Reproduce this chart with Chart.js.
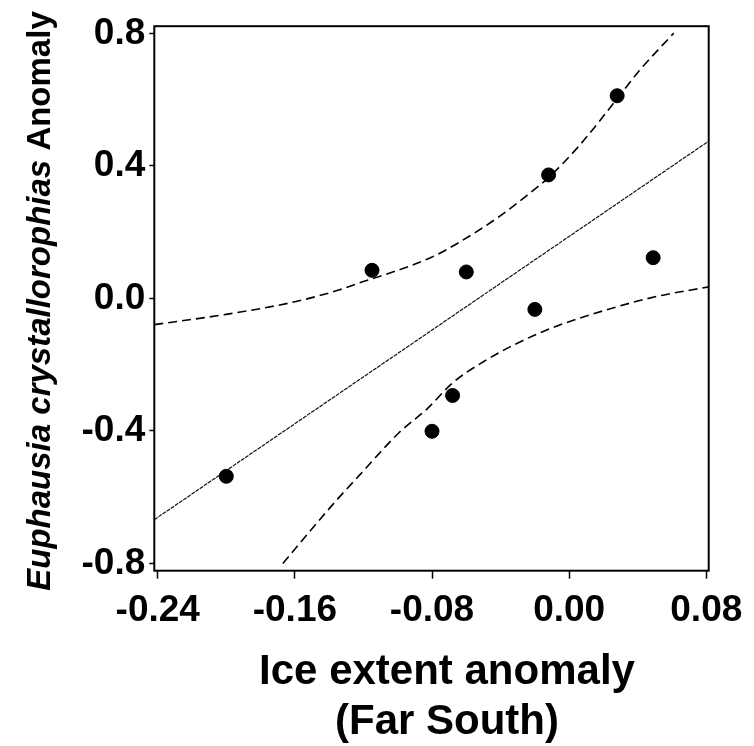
<!DOCTYPE html>
<html>
<head>
<meta charset="utf-8">
<script src="https://cdn.jsdelivr.net/npm/chart.js@4"></script>
<style>
  body { margin: 0; background: #fff; }
  canvas { display: block; }
</style>
</head>
<body>
<canvas id="chart" width="754" height="746"></canvas>
<script>
'use strict';

// observed anomalies (one point per year)
const iceAnomaly = [-0.200, -0.115, -0.080, -0.068, -0.060, -0.020, -0.012, 0.028, 0.049];
const krillAnomaly = [-0.537, 0.085, -0.401, -0.293, 0.080, -0.033, 0.373, 0.612, 0.123];

// fitted regression line
const fitX = [-0.242, 0.0814];
const fitY = [-0.668, 0.475];

// 95% confidence band, upper and lower curves
const upperX = [-0.242, -0.200, -0.160, -0.134, -0.120, -0.105, -0.080, -0.064, -0.040, -0.023, -0.012, 0.006, 0.028, 0.041, 0.061];
const upperY = [-0.079, -0.048, -0.010, 0.026, 0.051, 0.076, 0.125, 0.170, 0.250, 0.318, 0.365, 0.462, 0.603, 0.688, 0.801];
const lowerX = [-0.167, -0.136, -0.122, -0.099, -0.083, -0.068, -0.050, -0.029, -0.007, 0.026, 0.051, 0.0814];
const lowerY = [-0.800, -0.611, -0.532, -0.404, -0.334, -0.255, -0.191, -0.132, -0.083, -0.028, 0.006, 0.035];

const xTicks = [-0.24, -0.16, -0.08, 0.00, 0.08];
const yTicks = [-0.8, -0.4, 0.0, 0.4, 0.8];

const FONT = '"Liberation Sans", Arial, sans-serif';

function pairs(xs, ys) {
  return xs.map((x, i) => ({ x: x, y: ys[i] }));
}

// box round the plot plus the two axis titles
const framePlugin = {
  id: 'frame',
  afterDraw(chart) {
    const ctx = chart.ctx;
    const a = chart.chartArea;
    ctx.save();
    ctx.strokeStyle = '#000';
    ctx.lineWidth = 2;
    ctx.strokeRect(a.left, a.top, a.right - a.left, a.bottom - a.top);

    ctx.fillStyle = '#000';
    ctx.textAlign = 'center';
    ctx.textBaseline = 'alphabetic';
    ctx.font = 'bold 42px ' + FONT;
    ctx.fillText('Ice extent anomaly', 447, 684);
    ctx.fillText('(Far South)', 447, 734);

    // y title: italic species name followed by plain word
    const parts = [
      { text: 'Euphausia crystallorophias', font: 'italic bold 33px ' + FONT },
      { text: ' Anomaly', font: 'bold 33px ' + FONT }
    ];
    let total = 0;
    parts.forEach(p => { ctx.font = p.font; p.w = ctx.measureText(p.text).width; total += p.w; });
    ctx.translate(50, 301);
    ctx.rotate(-Math.PI / 2);
    ctx.textAlign = 'left';
    let pos = -total / 2;
    parts.forEach(p => { ctx.font = p.font; ctx.fillText(p.text, pos, 0); pos += p.w; });
    ctx.restore();
  }
};

const ctx = document.getElementById('chart').getContext('2d');

new Chart(ctx, {
  type: 'scatter',
  data: {
    datasets: [
      {
        label: 'observed',
        data: pairs(iceAnomaly, krillAnomaly),
        backgroundColor: '#000',
        borderColor: '#000',
        pointRadius: 7,
        pointHoverRadius: 7
      },
      {
        label: 'fit',
        data: pairs(fitX, fitY),
        showLine: true,
        pointRadius: 0,
        borderColor: '#111',
        borderWidth: 1.2,
        borderDash: [4, 1]
      },
      {
        label: 'upper',
        data: pairs(upperX, upperY),
        showLine: true,
        pointRadius: 0,
        cubicInterpolationMode: 'monotone',
        borderColor: '#000',
        borderWidth: 1.6,
        borderDash: [9, 5]
      },
      {
        label: 'lower',
        data: pairs(lowerX, lowerY),
        showLine: true,
        pointRadius: 0,
        cubicInterpolationMode: 'monotone',
        borderColor: '#000',
        borderWidth: 1.6,
        borderDash: [9, 5]
      }
    ]
  },
  options: {
    responsive: false,
    animation: false,
    events: [],
    layout: { padding: { top: 16, right: 45.3, left: 0, bottom: 0 } },
    plugins: {
      legend: { display: false },
      tooltip: { enabled: false }
    },
    scales: {
      x: {
        type: 'linear',
        min: -0.242,
        max: 0.0814,
        afterBuildTicks: s => { s.ticks = xTicks.map(v => ({ value: v })); },
        afterFit: s => { s.height = 175.3; },
        border: { display: false },
        grid: { drawOnChartArea: false, tickLength: 8, tickWidth: 1.5, color: '#000' },
        ticks: {
          autoSkip: false,
          maxRotation: 0,
          padding: 10,
          color: '#000',
          font: { family: FONT, size: 37, weight: 'bold' },
          callback: v => v.toFixed(2)
        }
      },
      y: {
        type: 'linear',
        min: -0.822,
        max: 0.822,
        afterBuildTicks: s => { s.ticks = yTicks.map(v => ({ value: v })); },
        afterFit: s => { s.width = 154.3; },
        border: { display: false },
        grid: { drawOnChartArea: false, tickLength: 5, tickWidth: 1.5, color: '#000' },
        ticks: {
          autoSkip: false,
          padding: 4,
          color: '#000',
          font: { family: FONT, size: 37, weight: 'bold' },
          callback: v => v.toFixed(1)
        }
      }
    }
  },
  plugins: [framePlugin]
});
</script>
</body>
</html>
